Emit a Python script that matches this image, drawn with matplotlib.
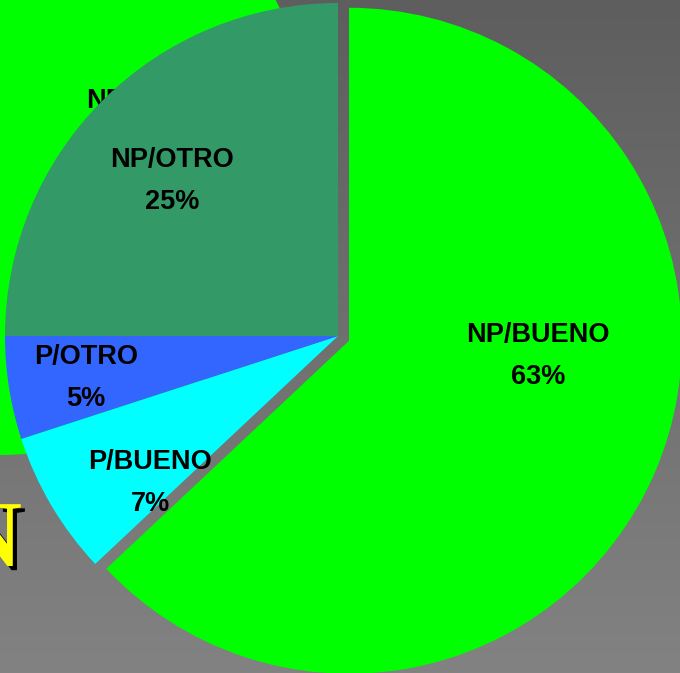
import numpy as np
import matplotlib
matplotlib.use("Agg")
import matplotlib.pyplot as plt
import matplotlib.patheffects as pe
from matplotlib.patches import Circle

# data
labels = ["NP/BUENO", "P/BUENO", "P/OTRO", "NP/OTRO"]
values = [63, 7, 5, 25]
colors = ["#00ff00", "#00ffff", "#3366ff", "#339966"]
explode = [12, 0, 0, 0]  # pixels (axes are in pixel units)

W, H = 680, 673
# label positions in pixels (x, y of the name line), percent goes 42px below
label_pos = [(538, 335), (150, 462), (86, 357), (172, 160)]

fig = plt.figure(figsize=(W / 100, H / 100), dpi=100)
ax = fig.add_axes([0, 0, 1, 1])

# grey gradient background
top = np.array([0x5e, 0x5e, 0x5e]) / 255
bot = np.array([0x82, 0x82, 0x82]) / 255
t = np.linspace(0, 1, 256)[:, None, None]
grad = top * (1 - t) + bot * t
ax.imshow(grad, extent=[0, W, 0, H], aspect="auto", zorder=0, interpolation="bilinear")

# part of another chart behind
ax.add_patch(Circle((0, H - 144), 311, color="#00ff00", zorder=1, lw=0))
ax.text(86, H - 101, "NP/BUENO", ha="left", va="center", fontsize=19.5,
        fontweight="bold", family="Liberation Sans", zorder=2)

wedges, _ = ax.pie(values, colors=colors, explode=explode, startangle=90,
                   counterclock=False, center=(338, H - 336), radius=333,
                   wedgeprops=dict(linewidth=0), frame=True)
for w in wedges:
    w.set_zorder(3)

total = sum(values)
for (px, py), name, v in zip(label_pos, labels, values):
    ax.text(px, H - py, name, ha="center", va="center", fontsize=19.5,
            fontweight="bold", family="Liberation Sans", zorder=4)
    ax.text(px, H - py - 42, "%d%%" % round(100 * v / total), ha="center",
            va="center", fontsize=19.5, fontweight="bold",
            family="Liberation Sans", zorder=4)

# title letter cut off at the left edge
ax.text(22, H - 566, "N", ha="right", va="baseline", fontsize=68,
        fontweight="bold", family="Liberation Serif", color="#ffff00", zorder=4,
        path_effects=[pe.SimplePatchShadow(offset=(3, -3), shadow_rgbFace="black",
                                           alpha=1), pe.Normal()])

ax.set_xlim(0, W)
ax.set_ylim(0, H)
ax.set_aspect("auto")
ax.axis("off")
fig.savefig("out.png", dpi=100)
